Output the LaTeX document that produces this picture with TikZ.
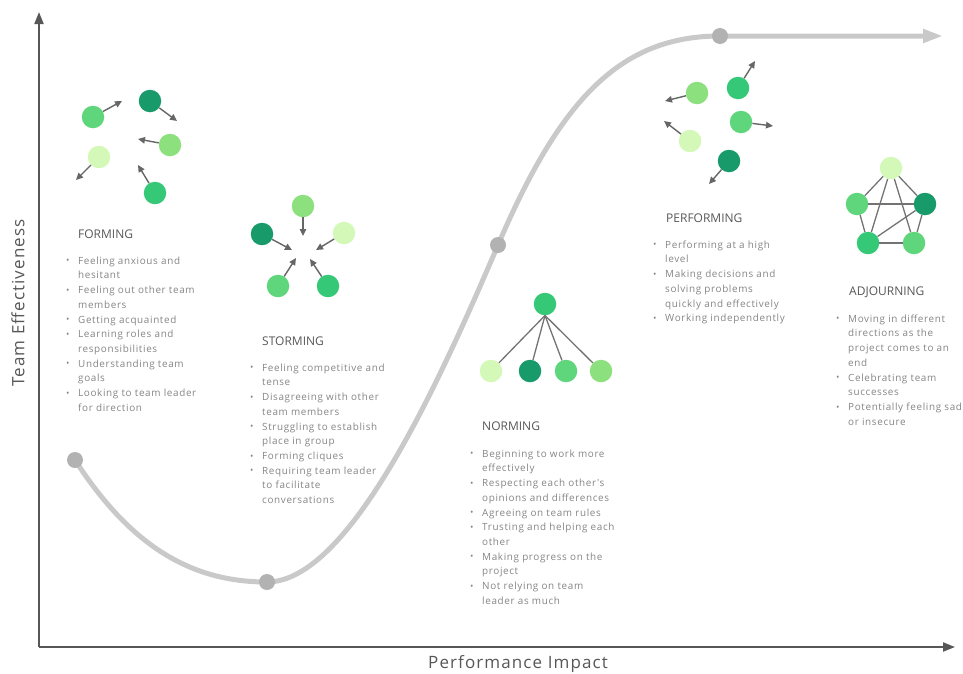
\documentclass[tikz,border=0pt]{standalone}
\usepackage{fontspec}
\setmainfont{Open Sans}
\newfontfamily\widefont[LetterSpace=6.5]{Open Sans}
\usetikzlibrary{arrows.meta}
\definecolor{gOne}{HTML}{189A6A} \definecolor{gTwo}{HTML}{35C977} \definecolor{gThree}{HTML}{5FD67C}
\definecolor{gFour}{HTML}{8CE07E} \definecolor{gFive}{HTML}{D3F8B8}
\definecolor{inkdark}{HTML}{575757} \definecolor{inklight}{HTML}{858585} \definecolor{trendgray}{HTML}{C9C9C9}
\newcommand{\bul}{\makebox[12pt][l]{\raisebox{0.3pt}{\small\textbullet}}}
\newcommand{\cnt}{\hspace*{12pt}}

\begin{document}
\begin{tikzpicture}[x=1pt,y=-1pt,
    mate/.style={circle,minimum size=22.5pt,inner sep=0pt},
    push/.style={-{Triangle[length=7pt,width=6.5pt]},line width=1.4pt,color=black!60},
    tie/.style={line width=1.3pt,color=black!55},
    axis/.style={-{Triangle[length=12pt,width=9pt]},line width=2pt,color=inkdark},
    trend/.style={-{Triangle[length=20pt,width=13pt]},line width=5pt,color=trendgray},
    dot/.style={circle,fill=black!30,minimum size=16pt,inner sep=0pt},
    stagetitle/.style={anchor=west,inner sep=0pt,color=inkdark,font=\fontsize{12}{14}\selectfont},
    stagetext/.style={anchor=north west,inner sep=0pt,align=left,color=inklight,font=\widefont\fontsize{9.9}{14.7}\selectfont}]
\useasboundingbox (0,0) rectangle (963,673);

% axes
\coordinate (o) at (39,647); \coordinate (ytop) at (39,12); \coordinate (xend) at (955,647);
\draw[axis] (o) -- (ytop); \draw[axis] (o) -- (xend);
\node[rotate=90,color=inkdark,font=\widefont\fontsize{17}{19}\selectfont] (ylab) at (18,303) {Team Effectiveness};
\node[color=inkdark,font=\widefont\fontsize{17}{19}\selectfont] (xlab) at (518,664) {Performance Impact};

% the curve
\coordinate (p1) at (75,460); \coordinate (p2) at (267,582); \coordinate (p3) at (498,245); \coordinate (p4) at (720,36); \coordinate (pend) at (943,36);
\draw[trend] (p1) .. controls (130,545) and (190,582) .. (p2) .. controls (350,582) and (440,380) .. (p3) .. controls (560,100) and (620,36) .. (p4) -- (pend);
\node[dot] (d1) at (p1) {}; \node[dot] (d2) at (p2) {}; \node[dot] (d3) at (p3) {}; \node[dot] (d4) at (p4) {};

% forming
\node[mate,fill=gThree] (fo1) at (93,117) {}; \node[mate,fill=gOne] (fo2) at (150,101) {}; \node[mate,fill=gFour] (fo3) at (170,145) {};
\node[mate,fill=gFive] (fo4) at (99,157) {}; \node[mate,fill=gTwo] (fo5) at (155,193) {};
\coordinate (fo1a) at (122,101); \coordinate (fo2a) at (177,121); \coordinate (fo3a) at (138,139); \coordinate (fo4a) at (76,180); \coordinate (fo5a) at (138,165);
\draw[push] (fo1) -- (fo1a); \draw[push] (fo2) -- (fo2a); \draw[push] (fo3) -- (fo3a); \draw[push] (fo4) -- (fo4a); \draw[push] (fo5) -- (fo5a);
\node[stagetitle] (formtitle) at (78,234) {FORMING};
\node[stagetext] (formtxt) at (66,256.5) {\bul Feeling anxious and\\ \cnt hesitant\\ \bul Feeling out other team\\ \cnt members\\ \bul Getting acquainted\\ \bul Learning roles and\\ \cnt responsibilities\\ \bul Understanding team\\ \cnt goals\\ \bul Looking to team leader\\ \cnt for direction};

% storming
\node[mate,fill=gFour] (st1) at (303,206) {}; \node[mate,fill=gOne] (st2) at (262,234) {}; \node[mate,fill=gFive] (st3) at (344,233) {};
\node[mate,fill=gThree] (st4) at (278,286) {}; \node[mate,fill=gTwo] (st5) at (328,286) {};
\coordinate (st1a) at (303,236); \coordinate (st2a) at (292,250); \coordinate (st3a) at (316,250); \coordinate (st4a) at (296,258); \coordinate (st5a) at (310,259);
\draw[push] (st1) -- (st1a); \draw[push] (st2) -- (st2a); \draw[push] (st3) -- (st3a); \draw[push] (st4) -- (st4a); \draw[push] (st5) -- (st5a);
\node[stagetitle] (stormtitle) at (262,341) {STORMING};
\node[stagetext] (stormtxt) at (250,363.5) {\bul Feeling competitive and\\ \cnt tense\\ \bul Disagreeing with other\\ \cnt team members\\ \bul Struggling to establish\\ \cnt place in group\\ \bul Forming cliques\\ \bul Requiring team leader\\ \cnt to facilitate\\ \cnt conversations};

% norming
\node[mate,fill=gTwo] (no0) at (545,304) {};
\node[mate,fill=gFive] (no1) at (491,371) {}; \node[mate,fill=gOne] (no2) at (530,371) {}; \node[mate,fill=gThree] (no3) at (566,371) {}; \node[mate,fill=gFour] (no4) at (601,371) {};
\draw[tie] (no0.south) -- (no1); \draw[tie] (no0.south) -- (no2); \draw[tie] (no0.south) -- (no3); \draw[tie] (no0.south) -- (no4);
\node[stagetitle] (normtitle) at (482,426) {NORMING};
\node[stagetext] (normtxt) at (470,449.5) {\bul Beginning to work more\\ \cnt effectively\\ \bul Respecting each other's\\ \cnt opinions and differences\\ \bul Agreeing on team rules\\ \bul Trusting and helping each\\ \cnt other\\ \bul Making progress on the\\ \cnt project\\ \bul Not relying on team\\ \cnt leader as much};

% performing
\node[mate,fill=gFour] (pe1) at (697,93) {}; \node[mate,fill=gTwo] (pe2) at (738,88) {}; \node[mate,fill=gThree] (pe3) at (741,122) {};
\node[mate,fill=gFive] (pe4) at (690,141) {}; \node[mate,fill=gOne] (pe5) at (729,161) {};
\coordinate (pe1a) at (665,101); \coordinate (pe2a) at (755,61); \coordinate (pe3a) at (773,126); \coordinate (pe4a) at (664,121); \coordinate (pe5a) at (709,184);
\draw[push] (pe1) -- (pe1a); \draw[push] (pe2) -- (pe2a); \draw[push] (pe3) -- (pe3a); \draw[push] (pe4) -- (pe4a); \draw[push] (pe5) -- (pe5a);
\node[stagetitle] (perftitle) at (666,218) {PERFORMING};
\node[stagetext] (perftxt) at (653,240.5) {\bul Performing at a high\\ \cnt level\\ \bul Making decisions and\\ \cnt solving problems\\ \cnt quickly and effectively\\ \bul Working independently};

% adjourning
\node[mate,fill=gFive] (ad1) at (891,168) {}; \node[mate,fill=gThree] (ad2) at (857,204) {}; \node[mate,fill=gOne] (ad3) at (925,204) {};
\node[mate,fill=gTwo] (ad4) at (868,243) {}; \node[mate,fill=gThree] (ad5) at (914,243) {};
\draw[tie] (ad1) -- (ad2); \draw[tie] (ad1) -- (ad3); \draw[tie] (ad1) -- (ad4); \draw[tie] (ad1) -- (ad5); \draw[tie] (ad2) -- (ad3);
\draw[tie] (ad2) -- (ad4); \draw[tie] (ad3) -- (ad5); \draw[tie] (ad3) -- (ad4); \draw[tie] (ad4) -- (ad5);
\node[stagetitle] (adjtitle) at (849,292) {ADJOURNING};
\node[stagetext] (adjtxt) at (836,314.5) {\bul Moving in different\\ \cnt directions as the\\ \cnt project comes to an\\ \cnt end\\ \bul Celebrating team\\ \cnt successes\\ \bul Potentially feeling sad\\ \cnt or insecure};
\end{tikzpicture}
\end{document}
